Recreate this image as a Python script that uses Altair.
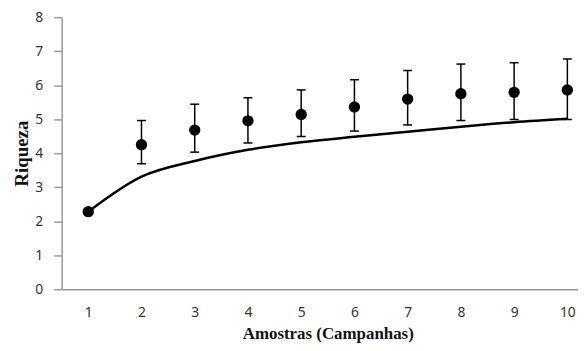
import altair as alt
import pandas as pd

amostras = [1, 2, 3, 4, 5, 6, 7, 8, 9, 10]
observado = [2.28, 4.25, 4.68, 4.95, 5.14, 5.36, 5.59, 5.75, 5.79, 5.86]
erro_sup = [2.28, 4.96, 5.44, 5.63, 5.86, 6.16, 6.43, 6.62, 6.66, 6.77]
erro_inf = [2.28, 3.69, 4.03, 4.30, 4.49, 4.65, 4.83, 4.96, 4.99, 4.99]
curva = [2.28, 3.31, 3.77, 4.10, 4.32, 4.48, 4.63, 4.78, 4.91, 5.01]
y_ticks = [0, 1, 2, 3, 4, 5, 6, 7, 8]

df = pd.DataFrame({
    "x": amostras, "obs": observado, "sup": erro_sup, "inf": erro_inf, "curva": curva,
})
df_err = df[df["x"] > 1]

W, H = 520, 274
xscale = alt.Scale(domain=[0.5, 10.2], nice=False, zero=False)
yscale = alt.Scale(domain=[0, 8], nice=False)

serif = "Liberation Serif"

xaxis = alt.Axis(
    values=amostras, ticks=False, grid=False, domainColor="#999999", domainWidth=1.5,
    labelFont="Noto Sans", labelFontSize=14, labelColor="#333333", labelPadding=16,
    labelOverlap=False, format="d",
    title="Amostras (Campanhas)", titleFont=serif, titleFontSize=17,
    titleFontWeight="bold", titleColor="#111111", titleX=268, titleY=45,
    titleAlign="center", titleBaseline="middle",
)
yaxis = alt.Axis(
    values=y_ticks, grid=False, domainColor="#999999", domainWidth=1.5,
    tickColor="#999999", tickSize=8, tickWidth=1.5, labelOverlap=False, format="d",
    labelFont="Noto Sans", labelFontSize=14, labelColor="#333333", labelPadding=11,
    title="Riqueza", titleFont=serif, titleFontSize=19,
    titleFontWeight="bold", titleColor="#111111", titleX=-40, titleY=H / 2,
    titleAngle=-90, titleAlign="center", titleBaseline="middle",
)


def X():
    return alt.X("x:Q", scale=xscale, axis=xaxis)


def Y(field):
    return alt.Y(field, scale=yscale, axis=yaxis)


line = alt.Chart(df).mark_line(color="black", strokeWidth=2.5, interpolate="monotone").encode(
    x=X(), y=Y("curva:Q"),
)

errb = alt.Chart(df_err).mark_rule(color="black", strokeWidth=1.5).encode(
    x=X(), y=Y("inf:Q"), y2="sup:Q",
)
cap_top = alt.Chart(df_err).mark_rule(
    color="black", strokeWidth=1.5, xOffset=-4.5, x2Offset=4.5
).encode(x=X(), x2="x:Q", y=Y("sup:Q"))
cap_bot = alt.Chart(df_err).mark_rule(
    color="black", strokeWidth=1.5, xOffset=-4.5, x2Offset=4.5
).encode(x=X(), x2="x:Q", y=Y("inf:Q"))

pts = alt.Chart(df).mark_point(filled=True, color="black", opacity=1, size=130).encode(
    x=X(), y=Y("obs:Q"),
)

chart = alt.layer(line, errb, cap_top, cap_bot, pts).properties(
    width=W, height=H, background="white",
    autosize=alt.AutoSizeParams(type="none"),
    padding={"left": 54, "top": 8, "right": 0, "bottom": 58},
).configure_view(stroke=None)

chart.save("out.html", embed_options={"renderer": "svg", "actions": False})
